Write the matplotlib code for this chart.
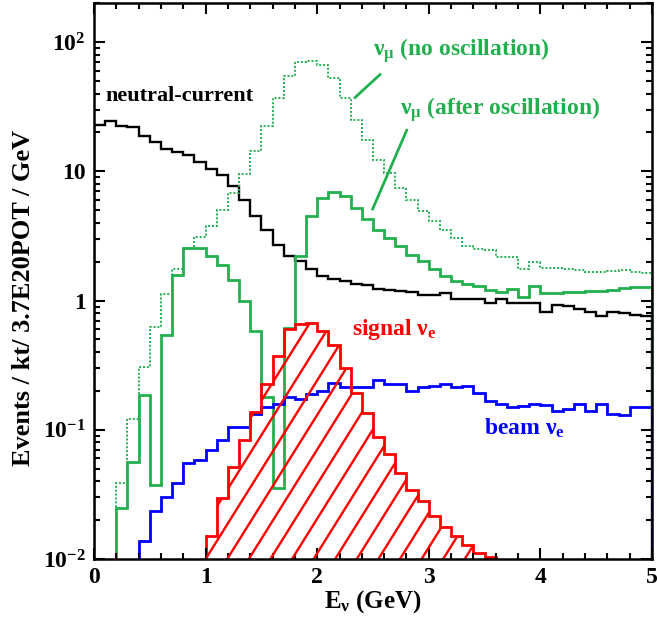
import numpy as np
import matplotlib
matplotlib.use('Agg')
import matplotlib.pyplot as plt
from matplotlib.ticker import FixedLocator, FixedFormatter, MultipleLocator, LogLocator, NullFormatter

# histograms, 0.1 GeV bins, each starting at the given energy
bin_width = 0.1

nc_start = 0.0
nc = [22.7, 24.4, 22.6, 22.1, 18.9, 16.8, 14.9, 14.1, 13.3, 11.9,
      10.5, 9.3, 7.7, 6.05, 4.55, 3.54, 2.68, 2.2, 2.01, 1.76,
      1.54, 1.47, 1.41, 1.35, 1.31, 1.22, 1.2, 1.18, 1.16, 1.11,
      1.11, 1.15, 1.03, 1.03, 1.03, 0.96, 1.03, 0.96, 0.95, 0.95,
      0.82, 0.92, 0.91, 0.865, 0.82, 0.76, 0.82, 0.80, 0.78, 0.76]

numu_noosc_start = 0.2
numu_noosc = [0.039, 0.122, 0.304, 0.624, 1.12, 1.76, 2.55, 3.11, 3.76, 5.0,
              6.8, 9.6, 14.3, 22.6, 37, 54.5, 70, 72, 67, 53,
              37, 25.2, 17.6, 12.3, 9.7, 7.45, 6.05, 4.9, 4.1, 3.54,
              3.05, 2.63, 2.5, 2.45, 2.17, 2.18, 1.75, 1.98, 1.78, 1.78,
              1.75, 1.74, 1.65, 1.65, 1.69, 1.72, 1.66, 1.64]

numu_osc_start = 0.2
numu_osc = [0.0247, 0.0568, 0.186, 0.0375, 0.537, 1.59, 2.55, 2.55, 2.2, 1.9,
            1.45, 1.0, 0.58, 0.18, 0.0356, 0.61, 2.23, 4.49, 6.2, 6.9,
            6.4, 5.2, 4.3, 3.54, 3.05, 2.63, 2.27, 2.01, 1.76, 1.56,
            1.41, 1.35, 1.29, 1.21, 1.17, 1.24, 1.07, 1.29, 1.14, 1.15,
            1.16, 1.17, 1.19, 1.19, 1.21, 1.26, 1.27, 1.27]

beam_nue_start = 0.4
beam_nue = [0.0139, 0.0237, 0.0304, 0.039, 0.0552, 0.0586, 0.0692, 0.0836, 0.105, 0.105,
            0.133, 0.151, 0.159, 0.179, 0.172, 0.19, 0.20, 0.23, 0.215, 0.215,
            0.215, 0.241, 0.227, 0.227, 0.198, 0.216, 0.22, 0.225, 0.215, 0.217,
            0.192, 0.166, 0.159, 0.15, 0.154, 0.159, 0.155, 0.139, 0.146, 0.159,
            0.139, 0.159, 0.133, 0.13, 0.15, 0.15]

signal_nue_start = 1.0
signal_nue = [0.0151, 0.0296, 0.0515, 0.0836, 0.138, 0.226, 0.37, 0.60, 0.662, 0.67,
              0.58, 0.455, 0.30, 0.192, 0.136, 0.0887, 0.0652, 0.0462, 0.034, 0.0279,
              0.0216, 0.0176, 0.015, 0.0129, 0.0112, 0.0104]

ytick_vals = [0.01, 0.1, 1, 10, 100]
ytick_labels = [r'$10^{-2}$', r'$10^{-1}$', '1', '10', r'$10^{2}$']

plt.rcParams['font.family'] = 'Liberation Serif'
plt.rcParams['font.weight'] = 'bold'
plt.rcParams['axes.labelweight'] = 'bold'
plt.rcParams['mathtext.fontset'] = 'custom'
plt.rcParams['mathtext.rm'] = 'Liberation Serif:bold'
plt.rcParams['mathtext.it'] = 'Liberation Serif:italic:bold'
plt.rcParams['mathtext.bf'] = 'Liberation Serif:bold'

green = '#22b04f'


def edges(start, vals):
    return start + bin_width * np.arange(len(vals) + 1)


fig = plt.figure(figsize=(6.57, 6.19), dpi=100)
ax = fig.add_axes([0.1431, 0.0969, 0.8493, 0.8978])
ax.set_yscale('log')
ax.set_xlim(0, 5)
ax.set_ylim(0.01, 200)

ax.stairs(nc, edges(nc_start, nc), baseline=1e-4, color='black', lw=1.7)
ax.stairs(numu_noosc, edges(numu_noosc_start, numu_noosc), baseline=1e-4,
          color=green, lw=1.4, linestyle=(0, (1, 1)))
ax.stairs(numu_osc, edges(numu_osc_start, numu_osc), baseline=1e-4, color=green, lw=2)
ax.stairs(beam_nue, edges(beam_nue_start, beam_nue), baseline=1e-4, color='blue', lw=2)
sig = ax.stairs(signal_nue, edges(signal_nue_start, signal_nue), baseline=1e-4,
                color='red', lw=2)

# diagonal hatching inside the signal histogram
spacing = 0.0387
run = 0.622
for k in range(-20, 26):
    x0 = 0.2 + k * spacing
    ln, = ax.plot([x0, x0 + run], [0, 1], transform=ax.transAxes, color='red', lw=1.7)
    ln.set_clip_path(sig)

# labels
ax.text(0.099, 38, 'neutral-current', color='black', fontsize=16, va='center')
ax.text(2.5, 86, r'$\mathrm{\nu_\mu}$ (no oscillation)', color=green, fontsize=17, va='center')
ax.text(2.742, 30, r'$\mathrm{\nu_\mu}$ (after oscillation)', color=green, fontsize=17, va='center')
ax.text(2.312, 0.6, r'signal $\mathrm{\nu_e}$', color='red', fontsize=17, va='center')
ax.text(3.495, 0.102, r'beam $\mathrm{\nu_e}$', color='blue', fontsize=17, va='center')
ax.plot([2.339, 2.563], [37.3, 56.2], color=green, lw=2)
ax.plot([2.497, 2.802], [5.12, 20.8], color=green, lw=2)

ax.xaxis.set_major_locator(MultipleLocator(1))
ax.xaxis.set_minor_locator(MultipleLocator(0.2))
ax.yaxis.set_major_locator(FixedLocator(ytick_vals))
ax.yaxis.set_major_formatter(FixedFormatter(ytick_labels))
ax.yaxis.set_minor_locator(LogLocator(base=10, subs=np.arange(2, 10)))
ax.yaxis.set_minor_formatter(NullFormatter())
ax.tick_params(which='both', direction='in', top=True, right=True, width=1.5, labelsize=17)
ax.tick_params(which='major', length=8, pad=6)
ax.tick_params(which='minor', length=4)
for s in ax.spines.values():
    s.set_linewidth(1.8)
    s.set_zorder(5)

ax.set_xlabel(r'$\mathrm{E_\nu}$ (GeV)', fontsize=18, labelpad=0)
ax.set_ylabel('Events / kt/ 3.7E20POT / GeV', fontsize=19)
ax.yaxis.set_label_coords(-0.105, 0.47)

fig.savefig('out.png', dpi=100)
